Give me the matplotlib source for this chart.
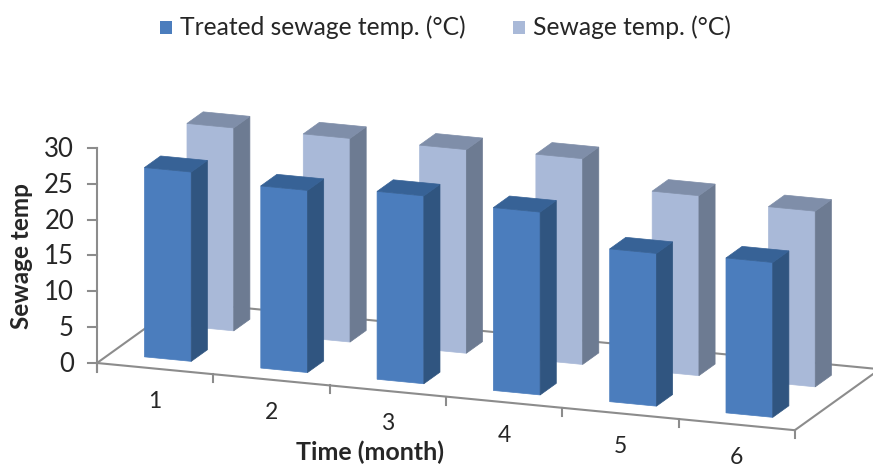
"""3D-look bar chart of sewage temperature per month"""

import numpy as np
from matplotlib import pyplot as plt
from matplotlib.patches import Polygon, Rectangle

plt.rcParams['font.family'] = ['Lato', 'DejaVu Sans']

months = ['1', '2', '3', '4', '5', '6']
treated = [26.4, 25.4, 26.2, 25.5, 21.3, 21.6]
sewage = [28.3, 28.4, 28.4, 28.7, 25.1, 24.5]
y_ticks = [0, 5, 10, 15, 20, 25, 30]

# Colours as (front, side, top)
treated_cols = ('#4b7dbd', '#305580', '#376296')
sewage_cols = ('#a9b9d8', '#6d7b92', '#7f8ea9')
axis_col = '#8c8c8c'
text_col = '#262626'

# Oblique projection, in pixels of the picture
origin = np.array([97., 363.])
x_step = np.array([116.3, 11.2])   # one month along the front edge
depth_vec = np.array([85., -61.])  # whole floor depth
z_px = 7.17                        # one degree upward


def proj(u, d, z=0.):
    """ Position in the picture of month u, depth d (0-1), height z """
    pt = origin + u * x_step + d * depth_vec
    return pt[0], pt[1] - z * z_px


def draw_bar(ax, i, depth, val, cols, zorder):
    """ One box: front, side and top faces """
    u0, u1 = i + 0.295, i + 0.697
    d0, d1 = depth - 0.095, depth + 0.095
    front = [proj(u0, d0), proj(u1, d0), proj(u1, d0, val), proj(u0, d0, val)]
    side = [proj(u1, d0), proj(u1, d1), proj(u1, d1, val), proj(u1, d0, val)]
    top = [proj(u0, d0, val), proj(u1, d0, val), proj(u1, d1, val), proj(u0, d1, val)]
    for face, col in zip((front, side, top), cols):
        ax.add_patch(Polygon(face, closed=True, facecolor=col, edgecolor=col,
                             linewidth=0.5, zorder=zorder))


fig = plt.figure(figsize=(8.73, 4.66), dpi=100)
ax = fig.add_axes([0, 0, 1, 1])
ax.set_xlim(0, 873)
ax.set_ylim(466, 0)
ax.axis('off')

# Floor outline
n = len(months)
for a, b in [((0, 0), (n, 0)), ((0, 0), (0, 1)), ((n, 0), (n, 1)), ((0, 1), (n, 1))]:
    p0, p1 = proj(*a), proj(*b)
    ax.plot([p0[0], p1[0]], [p0[1], p1[1]], color=axis_col, lw=1.5, zorder=1)

# Value axis
ax.plot([origin[0]] * 2, [proj(0, 0, y_ticks[-1])[1], origin[1] + 9], color=axis_col, lw=1.5, zorder=1)
for tick in y_ticks:
    px, py = proj(0, 0, tick)
    ax.plot([px - 9, px], [py, py], color=axis_col, lw=1.5, zorder=1)
    ax.text(px - 23, py + 1.5, str(tick), ha='right', va='center', fontsize=18.5, color=text_col)

# Month axis
for i in range(n + 1):
    px, py = proj(i, 0)
    ax.plot([px, px], [py, py + 8], color=axis_col, lw=1.5, zorder=1)
for i, lab in enumerate(months):
    px, py = proj(i + 0.5, 0)
    ax.text(px, py + 33, lab, ha='center', va='center', fontsize=16.5, color=text_col)

# Bars, back row first
for i in range(n):
    draw_bar(ax, i, 0.75, sewage[i], sewage_cols, 2)
for i in range(n):
    draw_bar(ax, i, 0.25, treated[i], treated_cols, 3)

# Axis titles
ax.text(22, 256, 'Sewage temp', rotation=90, ha='center', va='center',
        fontsize=17.5, fontweight='bold', color=text_col)
ax.text(370, 452, 'Time (month)', ha='center', va='center',
        fontsize=18, fontweight='bold', color=text_col)

# Legend
ax.add_patch(Rectangle((160, 21), 12, 13, facecolor=treated_cols[0], zorder=3))
ax.text(180, 27, 'Treated sewage temp. (°C)', ha='left', va='center', fontsize=17.7, color=text_col)
ax.add_patch(Rectangle((513, 21), 12, 13, facecolor=sewage_cols[0], zorder=3))
ax.text(533, 27, 'Sewage temp. (°C)', ha='left', va='center', fontsize=17.7, color=text_col)

fig.savefig('out.png', dpi=100)
